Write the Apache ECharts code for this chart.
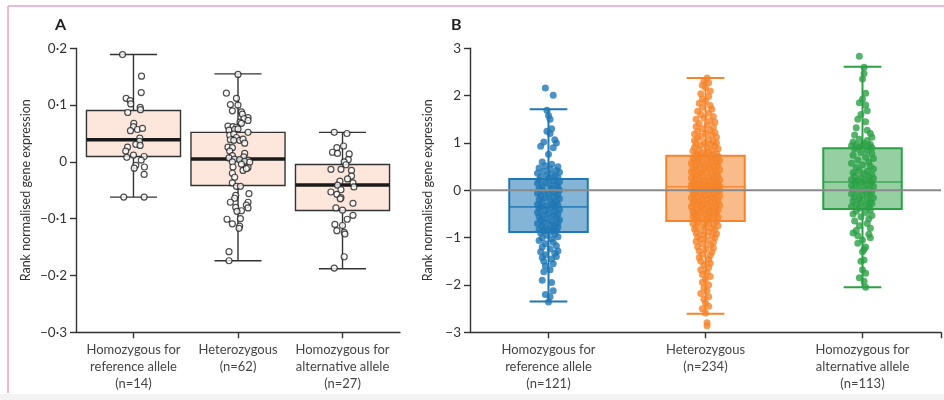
<!DOCTYPE html>
<html><head><meta charset="utf-8">
<script src="https://cdn.jsdelivr.net/npm/echarts@6/dist/echarts.min.js"></script>
<style>html,body{margin:0;padding:0;background:#fff}#c{width:944px;height:400px}</style>
</head><body><div id="c"></div>
<script>
// ---------- data ----------
const categories = ['Homozygous for\nreference allele', 'Heterozygous', 'Homozygous for\nalternative allele'];
const countsA = [14, 62, 27];
const countsB = [121, 234, 113];
const yTicksA = [-0.3, -0.2, -0.1, 0, 0.1, 0.2];
const yTicksB = [-3, -2, -1, 0, 1, 2, 3];
// box stats: [min whisker, Q1, median, Q3, max whisker]
const statsA = [
  [-0.062, 0.0095, 0.039, 0.0905, 0.189],
  [-0.174, -0.0415, 0.005, 0.052, 0.155],
  [-0.188, -0.0856, -0.0405, -0.0046, 0.052]
];
const statsB = [
  [-2.35, -0.88, -0.35, 0.24, 1.71],
  [-2.61, -0.65, 0.076, 0.73, 2.37],
  [-2.05, -0.395, 0.175, 0.89, 2.61]
];
// points: [jitter offset (category units), value]
const ptsA1 = [[-0.105,0.189],[0.077,0.151],[0.074,0.122],[-0.07,0.112],[-0.032,0.108],[-0.026,0.102],[0.064,0.096],[0.067,0.092],[-0.055,0.087],[0.003,0.068],[0,0.062],[0.038,0.057],[-0.029,0.055],[0.086,0.059],[0.06,0.042],[0.057,0.036],[0.022,0.031],[0.064,0.029],[-0.057,0.026],[-0.074,0.019],[-0.064,0.008],[0,0.012],[0.102,0.0095],[0.074,0.003],[0.022,-0.006],[0.007,-0.011],[0.105,-0.009],[0.102,-0.022],[-0.093,-0.062],[0.102,-0.062]];
const ptsA2 = [[0,0.154],[-0.111,0.121],[-0.015,0.112],[-0.073,0.101],[0,0.1],[-0.054,0.09],[0.033,0.088],[0.042,0.084],[0.096,0.078],[0.057,0.076],[0.096,0.073],[0.019,0.07],[0.033,0.068],[-0.096,0.063],[-0.048,0.062],[-0.015,0.061],[-0.086,0.056],[-0.032,0.057],[0,0.058],[0.096,0.052],[-0.079,0.047],[-0.041,0.049],[-0.015,0.043],[-0.073,0.039],[-0.041,0.038],[0.016,0.038],[0.048,0.04],[0.064,0.033],[-0.096,0.026],[-0.054,0.025],[-0.079,0.019],[0.064,0.015],[-0.054,0.011],[0.055,0.009],[-0.086,0.007],[-0.032,0.005],[0.016,0.004],[0.096,0.003],[-0.054,0],[0.064,0.001],[0.112,-0.0005],[0.033,-0.004],[-0.048,-0.009],[0.096,-0.01],[0.048,-0.015],[0.08,-0.012],[-0.054,-0.02],[-0.032,-0.027],[-0.054,-0.037],[-0.015,-0.043],[0.023,-0.043],[0.105,-0.056],[-0.022,-0.059],[-0.032,-0.064],[-0.073,-0.071],[0.096,-0.071],[0.08,-0.076],[-0.022,-0.08],[0.096,-0.081],[0.033,-0.086],[-0.01,-0.087],[-0.105,-0.101],[0.023,-0.1],[-0.054,-0.109],[0.016,-0.113],[0.01,-0.117],[-0.086,-0.158],[-0.086,-0.174]];
const ptsA3 = [[-0.079,0.052],[0.042,0.05],[-0.054,0.025],[0.01,0.028],[-0.096,0.017],[-0.048,0.015],[0.064,0.014],[0.055,0.004],[0.016,0],[0.033,-0.005],[-0.111,-0.013],[-0.015,-0.013],[0.086,-0.015],[0.086,-0.025],[0.048,-0.03],[-0.025,-0.034],[0.1,-0.037],[0.109,-0.044],[-0.048,-0.041],[-0.015,-0.049],[-0.111,-0.053],[-0.054,-0.057],[-0.015,-0.063],[-0.022,-0.065],[0.1,-0.073],[-0.063,-0.081],[0,-0.085],[0.1,-0.094],[0.045,-0.101],[-0.073,-0.11],[0,-0.112],[-0.054,-0.121],[0.016,-0.124],[0.023,-0.127],[0.016,-0.167],[-0.079,-0.187]];
const ptsB1 = [[-0.02,2.16],[0.03,2.01],[-0.01,1.69],[0.0,1.58],[0.01,1.5],[0.02,1.3],[-0.01,1.25],[0.01,1.2],[0.04,1.07],[-0.03,1.02],[0.05,1.0],[-0.05,0.93],[0.03,0.9],[0.0,0.76],[-0.04,0.6],[0.02,0.55],[-0.02,0.52],[0.06,0.5],[-0.06,0.47],[0.01,0.45],[0.05,0.42],[-0.03,0.4],[0.07,0.38],[-0.07,0.36],[0.02,0.34],[-0.01,0.32],[0.04,0.3],[-0.05,0.28],[0.06,0.27],[0.0,0.25],
[-0.06,0.22],[0.03,0.2],[0.07,0.18],[-0.02,0.16],[-0.07,0.15],[0.05,0.12],[0.01,0.1],[-0.04,0.08],[0.06,0.06],[-0.06,0.04],[0.02,0.02],[0.07,0.0],[-0.03,-0.02],[0.04,-0.04],[-0.07,-0.06],[0.0,-0.08],[0.06,-0.1],[-0.05,-0.12],[0.03,-0.14],[-0.02,-0.16],[0.07,-0.18],[-0.06,-0.2],[0.01,-0.22],[0.05,-0.24],[-0.04,-0.26],[0.03,-0.28],[-0.07,-0.3],[0.06,-0.31],[-0.01,-0.33],[0.04,-0.34],
[-0.05,-0.35],
[0.02,-0.37],[-0.06,-0.39],[0.07,-0.41],[-0.02,-0.43],[0.04,-0.45],[-0.07,-0.47],[0.0,-0.49],[0.06,-0.5],[-0.04,-0.52],[0.03,-0.54],[-0.06,-0.56],[0.05,-0.58],[-0.01,-0.6],[0.07,-0.62],[-0.05,-0.64],[0.02,-0.66],[-0.03,-0.67],[0.06,-0.69],[-0.07,-0.7],[0.01,-0.72],[0.04,-0.74],[-0.04,-0.76],[0.06,-0.78],[-0.02,-0.8],[0.03,-0.82],[-0.06,-0.83],[0.0,-0.84],[0.05,-0.85],[-0.03,-0.86],[0.02,-0.87],
[-0.05,-0.9],[0.04,-0.93],[-0.01,-0.95],[0.06,-0.98],[-0.04,-1.0],[0.02,-1.03],[-0.06,-1.06],[0.03,-1.1],[-0.02,-1.13],[0.05,-1.17],[-0.04,-1.2],[0.01,-1.24],[0.06,-1.28],[-0.05,-1.3],[0.04,-1.33],[-0.02,-1.36],[0.05,-1.4],[-0.04,-1.42],[0.02,-1.45],[-0.03,-1.5],[0.03,-1.55],[-0.02,-1.6],[0.01,-1.68],[-0.03,-1.72],[-0.04,-1.9],[0.02,-1.95],[0.03,-2.12],[-0.02,-2.2],[0.01,-2.25],[0.0,-2.36]];
const ptsB2 = [[0.01,2.37],[-0.01,2.31],[0.02,2.27],[-0.02,2.22],[0.0,2.17],[0.03,2.1],[-0.03,2.04],[0.02,1.98],[-0.02,1.93],[0.0,1.88],[-0.04,1.84],[0.03,1.79],[-0.02,1.75],[0.04,1.71],[-0.05,1.67],[0.02,1.63],[-0.03,1.6],[0.05,1.56],[-0.01,1.53],[-0.06,1.5],[0.03,1.47],[0.06,1.44],[-0.04,1.41],[0.01,1.38],[-0.06,1.35],[0.05,1.33],[-0.02,1.3],[0.03,1.27],[-0.05,1.25],[0.06,1.22],[0.0,1.2],[-0.07,1.19],[0.04,1.17],[-0.03,1.14],[0.07,1.12],[-0.05,1.1],[0.02,1.07],[-0.07,1.05],[0.05,1.03],[-0.01,1.01],[0.07,1.0],[-0.06,0.99],[0.03,0.97],[-0.03,0.95],[0.06,0.93],[-0.07,0.91],[0.01,0.9],[0.08,0.88],[-0.04,0.86],[0.04,0.84],[-0.08,0.83],[0.02,0.81],[-0.02,0.8],[0.07,0.78],[-0.06,0.77],[0.0,0.76],[0.05,0.75],[-0.05,0.74],
[0.08,0.72],[-0.03,0.71],[0.03,0.7],[-0.08,0.69],[0.06,0.67],[-0.05,0.66],[0.01,0.65],[0.09,0.63],[-0.07,0.62],[0.04,0.61],[-0.02,0.59],[0.07,0.58],[-0.09,0.57],[0.02,0.55],[-0.04,0.54],[0.08,0.53],[-0.06,0.51],[0.0,0.5],[0.05,0.49],[-0.08,0.47],[0.03,0.46],[-0.01,0.45],[0.09,0.43],[-0.05,0.42],[0.06,0.41],[-0.09,0.39],[0.01,0.38],[-0.03,0.37],[0.07,0.35],[-0.07,0.34],[0.04,0.33],[-0.02,0.31],[0.08,0.3],[-0.06,0.29],[0.02,0.27],[-0.09,0.26],[0.05,0.25],[-0.04,0.23],[0.09,0.22],[0.0,0.21],[-0.07,0.2],[0.06,0.19],[-0.02,0.18],[0.03,0.17],[-0.08,0.16],[0.08,0.15],[-0.05,0.14],[0.01,0.13],[0.05,0.12],[-0.09,0.115],[0.07,0.11],[-0.03,0.105],[0.02,0.1],[-0.06,0.095],[0.09,0.09],[-0.01,0.085],[0.04,0.08],[-0.07,0.078],
[0.06,0.07],[-0.04,0.06],[0.02,0.05],[-0.09,0.04],[0.08,0.03],[-0.02,0.02],[0.04,0.01],[-0.06,0.0],[0.09,-0.01],[0.0,-0.02],[-0.08,-0.04],[0.05,-0.05],[-0.03,-0.06],[0.07,-0.07],[-0.07,-0.09],[0.02,-0.1],[-0.01,-0.11],[0.09,-0.12],[-0.05,-0.14],[0.04,-0.15],[-0.09,-0.16],[0.06,-0.17],[-0.02,-0.19],[0.01,-0.2],[-0.07,-0.21],[0.08,-0.22],[-0.04,-0.24],[0.03,-0.25],[-0.08,-0.26],[0.06,-0.27],[0.0,-0.29],[-0.05,-0.3],[0.09,-0.31],[-0.02,-0.32],[0.04,-0.34],[-0.09,-0.35],[0.07,-0.36],[-0.03,-0.37],[0.02,-0.39],[-0.06,-0.4],[0.08,-0.41],[-0.01,-0.42],[0.05,-0.44],[-0.08,-0.45],[0.03,-0.46],[-0.04,-0.47],[0.07,-0.49],[-0.07,-0.5],[0.0,-0.51],[0.06,-0.52],[-0.05,-0.54],[0.02,-0.55],[-0.08,-0.56],[0.08,-0.57],[-0.02,-0.59],[0.04,-0.6],[-0.06,-0.62],[0.01,-0.64],
[0.07,-0.66],[-0.05,-0.67],[0.02,-0.69],[-0.08,-0.7],[0.05,-0.72],[-0.02,-0.73],[0.08,-0.75],[-0.06,-0.76],[0.0,-0.78],[0.04,-0.8],[-0.07,-0.82],[0.06,-0.84],[-0.03,-0.86],[0.02,-0.88],[-0.06,-0.9],[0.07,-0.92],[-0.01,-0.94],[0.04,-0.96],[-0.05,-0.98],[0.06,-1.0],[-0.03,-1.03],[0.01,-1.05],[-0.06,-1.08],[0.05,-1.1],[-0.02,-1.13],[0.03,-1.16],[-0.05,-1.19],[0.05,-1.22],[0.0,-1.25],[-0.04,-1.28],[0.04,-1.31],[-0.02,-1.35],[0.03,-1.38],[-0.04,-1.42],[0.02,-1.46],[-0.03,-1.5],[0.03,-1.54],[-0.01,-1.58],[0.02,-1.63],[-0.03,-1.68],[0.01,-1.73],[-0.02,-1.78],[0.03,-1.82],[0.0,-1.88],[-0.02,-1.94],[0.02,-2.0],[-0.01,-2.06],[0.01,-2.12],[-0.03,-2.18],[0.02,-2.25],[-0.01,-2.3],[0.0,-2.38],[0.02,-2.45],[-0.02,-2.5],[0.0,-2.59],[0.01,-2.8],[0.01,-2.86]];
const ptsB3 = [[-0.02,2.83],[0.01,2.6],[0.01,2.47],[0.0,2.35],[0.02,2.05],[0.0,1.93],[-0.02,1.85],[0.02,1.8],[0.03,1.68],[-0.01,1.6],[-0.03,1.5],[0.02,1.45],[-0.04,1.32],[0.03,1.27],[0.05,1.2],[-0.05,1.17],[0.06,1.12],[-0.02,1.08],[0.03,1.05],[-0.06,1.02],[0.01,0.99],[0.05,0.97],[-0.04,0.96],[0.0,0.95],[-0.07,0.94],[0.04,0.93],[-0.02,0.92],[0.06,0.9],
[-0.05,0.87],[0.03,0.84],[-0.01,0.8],[0.06,0.77],[-0.06,0.74],[0.02,0.7],[0.07,0.67],[-0.03,0.64],[0.04,0.6],[-0.07,0.57],[0.0,0.54],[0.05,0.51],[-0.04,0.48],[0.07,0.45],[-0.02,0.42],[0.03,0.4],[-0.06,0.37],[0.01,0.35],[0.06,0.33],[-0.05,0.31],[0.04,0.29],[-0.01,0.27],[0.07,0.25],[-0.07,0.23],[0.02,0.21],[-0.03,0.2],[0.05,0.19],[-0.05,0.18],
[0.0,0.175],
[0.06,0.16],[-0.04,0.14],[0.02,0.12],[-0.07,0.1],[0.07,0.08],[-0.02,0.06],[0.04,0.04],[-0.06,0.02],[0.01,0.0],[0.06,-0.02],[-0.03,-0.04],[0.03,-0.06],[-0.07,-0.08],[0.05,-0.1],[0.0,-0.12],[-0.05,-0.14],[0.07,-0.16],[-0.02,-0.18],[0.03,-0.2],[-0.06,-0.22],[0.05,-0.24],[-0.01,-0.26],[0.06,-0.28],[-0.04,-0.3],[0.02,-0.32],[-0.07,-0.34],[0.04,-0.36],[-0.02,-0.38],
[0.05,-0.41],[-0.04,-0.44],[0.02,-0.47],[-0.06,-0.5],[0.06,-0.53],[-0.01,-0.56],[0.04,-0.6],[-0.05,-0.65],[0.03,-0.7],[-0.02,-0.75],[0.05,-0.8],[-0.04,-0.85],[-0.06,-0.9],[0.04,-0.93],[-0.03,-0.96],[0.05,-1.0],[0.0,-1.05],[-0.03,-1.12],[0.02,-1.2],[0.01,-1.25],[0.0,-1.3],[0.01,-1.47],[-0.01,-1.5],[0.0,-1.68],[0.02,-1.75],[-0.02,-1.85],[0.01,-1.92],[0.02,-2.05]];

// ---------- styling ----------
const FONT = 'Lato, "Open Sans", sans-serif';
const colorsB = ['#1f77b4', '#f5842a', '#2ca046'];
const fillsB = ['rgba(31,119,180,0.55)', 'rgba(245,132,42,0.55)', 'rgba(44,160,70,0.5)'];

const chart = echarts.init(document.getElementById('c'), null, {renderer: 'canvas'});

function fmtA(v) {
  if (Math.abs(v) < 1e-9) return '0';
  return (v < 0 ? '\u2212' : '') + Math.abs(v).toFixed(1).replace('.', '\u00b7');
}
function fmtB(v) {
  if (Math.abs(v) < 1e-9) return '0';
  return (v < 0 ? '\u2212' : '') + Math.abs(Math.round(v));
}
function toScatter(pts, g) { return pts.map(p => [g + p[0], p[1]]); }
function boxData(stats) { return stats.map((s, i) => [i].concat(s)); }

function renderBoxA(params, api) {
  const x = api.value(0);
  const pMax = api.coord([x, api.value(5)]), pQ3 = api.coord([x, api.value(4)]);
  const pMd = api.coord([x, api.value(3)]), pQ1 = api.coord([x, api.value(2)]);
  const pMin = api.coord([x, api.value(1)]);
  const w = api.size([0.9, 0])[0], cw = api.size([0.45, 0])[0];
  const cx = pMax[0];
  const st = {stroke: '#333', lineWidth: 1.4};
  return {type: 'group', children: [
    {type: 'line', shape: {x1: cx, y1: pMax[1], x2: cx, y2: pQ3[1]}, style: st},
    {type: 'line', shape: {x1: cx, y1: pQ1[1], x2: cx, y2: pMin[1]}, style: st},
    {type: 'line', shape: {x1: cx - cw / 2, y1: pMax[1], x2: cx + cw / 2, y2: pMax[1]}, style: st},
    {type: 'line', shape: {x1: cx - cw / 2, y1: pMin[1], x2: cx + cw / 2, y2: pMin[1]}, style: st},
    {type: 'rect', shape: {x: cx - w / 2, y: pQ3[1], width: w, height: pQ1[1] - pQ3[1]}, style: {fill: '#fde6db', stroke: '#333', lineWidth: 1.4}}
  ]};
}
function renderMedianA(params, api) {
  const x = api.value(0);
  const pMd = api.coord([x, api.value(3)]);
  const w = api.size([0.9, 0])[0];
  return {type: 'line', shape: {x1: pMd[0] - w / 2, y1: pMd[1], x2: pMd[0] + w / 2, y2: pMd[1]}, style: {stroke: '#1a1a1a', lineWidth: 3.5}};
}
function renderFillB(params, api) {
  const i = params.dataIndex;
  const x = api.value(0);
  const pMax = api.coord([x, api.value(5)]), pQ3 = api.coord([x, api.value(4)]);
  const pQ1 = api.coord([x, api.value(2)]), pMin = api.coord([x, api.value(1)]);
  const w = api.size([0.5, 0])[0], cw = api.size([0.24, 0])[0];
  const cx = pMax[0];
  const st = {stroke: colorsB[i], lineWidth: 2};
  return {type: 'group', children: [
    {type: 'rect', shape: {x: cx - w / 2, y: pQ3[1], width: w, height: pQ1[1] - pQ3[1]}, style: {fill: fillsB[i]}},
    {type: 'line', shape: {x1: cx, y1: pMax[1], x2: cx, y2: pQ3[1]}, style: st},
    {type: 'line', shape: {x1: cx, y1: pQ1[1], x2: cx, y2: pMin[1]}, style: st},
    {type: 'line', shape: {x1: cx - cw / 2, y1: pMax[1], x2: cx + cw / 2, y2: pMax[1]}, style: st},
    {type: 'line', shape: {x1: cx - cw / 2, y1: pMin[1], x2: cx + cw / 2, y2: pMin[1]}, style: st}
  ]};
}
function renderOutlineB(params, api) {
  const i = params.dataIndex;
  const x = api.value(0);
  const pQ3 = api.coord([x, api.value(4)]), pMd = api.coord([x, api.value(3)]), pQ1 = api.coord([x, api.value(2)]);
  const w = api.size([0.5, 0])[0];
  const cx = pQ3[0];
  return {type: 'group', children: [
    {type: 'rect', shape: {x: cx - w / 2, y: pQ3[1], width: w, height: pQ1[1] - pQ3[1]}, style: {fill: 'none', stroke: colorsB[i], lineWidth: 2}},
    {type: 'line', shape: {x1: cx - w / 2, y1: pMd[1], x2: cx + w / 2, y2: pMd[1]}, style: {stroke: colorsB[i], lineWidth: 1.6, opacity: 0.85}}
  ]};
}
function renderZero(params, api) {
  const a = api.coord([-0.5, 0]), b = api.coord([2.5, 0]);
  return {type: 'line', shape: {x1: a[0], y1: a[1], x2: b[0], y2: b[1]}, style: {stroke: '#8a8a8a', lineWidth: 2}};
}

const axisLineStyle = {color: '#333', width: 1.4};
function xAxisCfg(grid, min, max, counts, tickVals) {
  return {
    gridIndex: grid, type: 'value', min: min, max: max,
    axisLine: {onZero: false, lineStyle: axisLineStyle},
    axisTick: {show: true, customValues: tickVals, length: 6, lineStyle: axisLineStyle},
    axisLabel: {customValues: [0, 1, 2], margin: 9, fontSize: 13, lineHeight: 17, color: '#444', fontFamily: FONT,
      formatter: v => categories[Math.round(v)] + '\n(n=' + counts[Math.round(v)] + ')'},
    splitLine: {show: false}
  };
}
function yAxisCfg(grid, ticks, fmt, gap) {
  return {
    gridIndex: grid, type: 'value', min: ticks[0], max: ticks[ticks.length - 1],
    interval: ticks[1] - ticks[0],
    axisLine: {show: true, onZero: false, lineStyle: axisLineStyle},
    axisTick: {show: true, length: 6, lineStyle: axisLineStyle},
    axisLabel: {formatter: fmt, margin: 9, fontSize: 13.5, color: '#333', fontFamily: FONT},
    splitLine: {show: false},
    name: 'Rank normalised gene expression', nameLocation: 'middle', nameGap: gap,
    nameTextStyle: {fontSize: 12.5, color: '#333', fontFamily: FONT}
  };
}

const option = {
  backgroundColor: '#fff',
  animation: false,
  grid: [
    {left: 76, top: 48.3, width: 324, height: 284},
    {left: 470, top: 48.3, width: 471, height: 284}
  ],
  xAxis: [
    xAxisCfg(0, -0.55, 2.55, countsA, [0, 1, 2]),
    xAxisCfg(1, -0.5, 2.5, countsB, [0, 1, 2, 2.5])
  ],
  yAxis: [
    yAxisCfg(0, yTicksA, fmtA, 44),
    yAxisCfg(1, yTicksB, fmtB, 36)
  ],
  graphic: [
    {type: 'line', shape: {x1: 8, y1: 6, x2: 944, y2: 6}, style: {stroke: '#e9a3bb', lineWidth: 1.5}},
    {type: 'line', shape: {x1: 8, y1: 6, x2: 8, y2: 393}, style: {stroke: '#e9a3bb', lineWidth: 1.5}},
    {type: 'rect', shape: {x: 0, y: 394, width: 944, height: 6}, style: {fill: '#f3f3f3'}},
    {type: 'text', left: 55, top: 17, style: {text: 'A', font: 'bold 16px ' + FONT, fill: '#222'}},
    {type: 'text', left: 451, top: 17, style: {text: 'B', font: 'bold 16px ' + FONT, fill: '#222'}}
  ],
  series: [
    {type: 'custom', xAxisIndex: 0, yAxisIndex: 0, z: 1, renderItem: renderBoxA, data: boxData(statsA), silent: true},
    {type: 'custom', xAxisIndex: 0, yAxisIndex: 0, z: 2, renderItem: renderMedianA, data: boxData(statsA), silent: true},
    {type: 'scatter', xAxisIndex: 0, yAxisIndex: 0, z: 3, symbol: 'circle', symbolSize: 6,
      itemStyle: {color: '#fff', borderColor: '#222', borderWidth: 1.2},
      data: toScatter(ptsA1, 0).concat(toScatter(ptsA2, 1), toScatter(ptsA3, 2))},
    {type: 'custom', xAxisIndex: 1, yAxisIndex: 1, z: 1, renderItem: renderFillB, data: boxData(statsB), silent: true},
    {type: 'scatter', xAxisIndex: 1, yAxisIndex: 1, z: 3, symbol: 'circle', symbolSize: 7, itemStyle: {color: colorsB[0]}, data: toScatter(ptsB1, 0)},
    {type: 'scatter', xAxisIndex: 1, yAxisIndex: 1, z: 3, symbol: 'circle', symbolSize: 7, itemStyle: {color: colorsB[1]}, data: toScatter(ptsB2, 1)},
    {type: 'scatter', xAxisIndex: 1, yAxisIndex: 1, z: 3, symbol: 'circle', symbolSize: 7, itemStyle: {color: colorsB[2]}, data: toScatter(ptsB3, 2)},
    {type: 'custom', xAxisIndex: 1, yAxisIndex: 1, z: 4, renderItem: renderOutlineB, data: boxData(statsB), silent: true},
    {type: 'custom', xAxisIndex: 1, yAxisIndex: 1, z: 5, renderItem: renderZero, data: [[0, 0]], silent: true}
  ]
};
chart.setOption(option);
</script>
</body></html>
